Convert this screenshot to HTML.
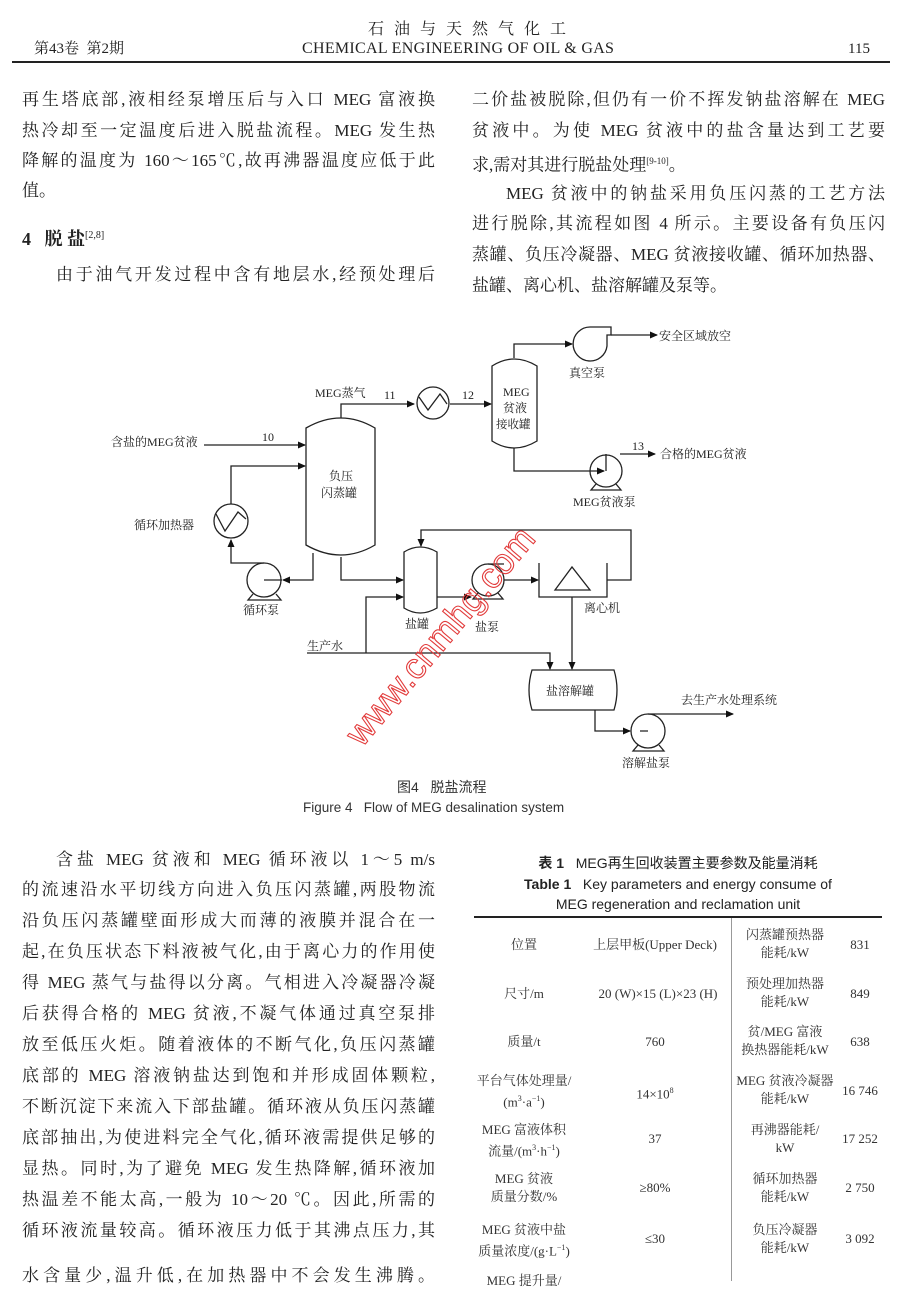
<!DOCTYPE html>
<html><head><meta charset="utf-8">
<style>
html,body{margin:0;padding:0;background:#fff;}
body{width:904px;height:1281px;position:relative;overflow:hidden;font-family:"Liberation Serif","Noto Serif CJK SC",serif;color:#222;}
.l{position:absolute;font-size:17px;line-height:24px;white-space:nowrap;}
.j{text-align:justify;text-align-last:justify;white-space:normal;height:24px;overflow:hidden;}
.t{position:absolute;font-size:13px;line-height:18px;text-align:center;color:#333;}
.sans{font-family:"Liberation Sans","Noto Sans CJK SC",sans-serif;}
</style></head><body>
<!-- header -->
<div class="l" style="left:368px;top:18px;font-size:16px;letter-spacing:10px;">石油与天然气化工</div>
<div class="l" style="left:302px;top:37px;font-size:16px;letter-spacing:0.3px;">CHEMICAL ENGINEERING OF OIL &amp; GAS</div>
<div class="l" style="left:34px;top:37px;font-size:15px;">第43卷&nbsp; 第2期</div>
<div class="l" style="left:848px;top:37px;font-size:15px;">115</div>
<div style="position:absolute;left:12px;top:61px;width:878px;height:2px;background:#222;"></div>

<!-- left column top -->
<div class="l j" style="left:22px;top:88px;width:413px;">再生塔底部,液相经泵增压后与入口 MEG 富液换</div>
<div class="l j" style="left:22px;top:119px;width:413px;">热冷却至一定温度后进入脱盐流程。MEG 发生热</div>
<div class="l j" style="left:22px;top:149px;width:413px;">降解的温度为 160～165℃,故再沸器温度应低于此</div>
<div class="l" style="left:22px;top:179px;">值。</div>
<div class="l" style="left:22px;top:224px;font-weight:bold;font-size:18px;">4&nbsp;&nbsp; 脱 盐<sup style="font-size:10px;font-weight:normal;">[2,8]</sup></div>
<div class="l j" style="left:56px;top:263px;width:379px;">由于油气开发过程中含有地层水,经预处理后</div>

<!-- right column top -->
<div class="l j" style="left:472px;top:88px;width:413px;">二价盐被脱除,但仍有一价不挥发钠盐溶解在 MEG</div>
<div class="l j" style="left:472px;top:119px;width:413px;">贫液中。为使 MEG 贫液中的盐含量达到工艺要</div>
<div class="l" style="left:472px;top:149px;">求,需对其进行脱盐处理<sup style="font-size:9px;">[9-10]</sup>。</div>
<div class="l j" style="left:506px;top:182px;width:379px;">MEG 贫液中的钠盐采用负压闪蒸的工艺方法</div>
<div class="l j" style="left:472px;top:212px;width:413px;">进行脱除,其流程如图 4 所示。主要设备有负压闪</div>
<div class="l j" style="left:472px;top:243px;width:413px;">蒸罐、负压冷凝器、MEG 贫液接收罐、循环加热器、</div>
<div class="l" style="left:472px;top:274px;">盐罐、离心机、盐溶解罐及泵等。</div>

<!-- diagram -->
<svg style="position:absolute;left:0;top:0" width="904" height="820" viewBox="0 0 904 820">
<defs><marker id="a" markerWidth="8" markerHeight="8" refX="7" refY="4" orient="auto" markerUnits="userSpaceOnUse"><path d="M0,0.5 L8,4 L0,7.5z" fill="#111"/></marker></defs>
<g fill="none" stroke="#222" stroke-width="1.3">
<path d="M306,428 Q341,408 375,428 L375,545 Q341,565 306,545 Z"/>
<path d="M492,366 Q514,352 537,366 L537,441 Q514,455 492,441 Z"/>
<path d="M404,552 Q420,542 437,552 L437,608 Q420,618 404,608 Z"/>
<path d="M532,670 L614,670 Q620,690 614,710 L532,710 Q526,690 532,670 Z"/>
<path d="M539,563 L539,597 L607,597 L607,563"/>
<path d="M555,590 L572,567 L590,590 Z"/>
<circle cx="433" cy="403" r="16"/><path d="M419,397 L428,410 L440,394 L447,404"/>
<circle cx="231" cy="521" r="17"/><path d="M216,514 L225,531 L238,512 L246,519"/>
<circle cx="264" cy="580" r="17"/><path d="M264,580 L282,580 M253,594 L248,600 L281,600 L276,594"/>
<circle cx="606" cy="471" r="16"/><path d="M596,484 L591,490 L621,490 L616,484 M606,454 L606,471"/>
<circle cx="488" cy="580" r="16"/><path d="M478,593 L473,599 L503,599 L498,593 M488,564 L504,564"/>
<circle cx="648" cy="731" r="17"/><path d="M638,745 L633,751 L664,751 L659,745 M648,731 L640,731 M648,714 L664,714"/>
<path d="M611,335 L611,327 L590,327 A17,17 0 1 0 607,346 L607,335 Z"/>
<path d="M341,418 L341,404 L414,404" marker-end="url(#a)"/>
<path d="M450,404 L491,404" marker-end="url(#a)"/>
<path d="M514,358 L514,344 L572,344" marker-end="url(#a)"/>
<path d="M611,335 L657,335" marker-end="url(#a)"/>
<path d="M514,448 L514,471 L604,471" marker-end="url(#a)"/>
<path d="M620,454 L655,454" marker-end="url(#a)"/>
<path d="M204,445 L305,445" marker-end="url(#a)"/>
<path d="M231,504 L231,466 L305,466" marker-end="url(#a)"/>
<path d="M264,563 L231,563 L231,540" marker-end="url(#a)"/>
<path d="M313,553 L313,580 L283,580" marker-end="url(#a)"/>
<path d="M341,557 L341,580 L403,580" marker-end="url(#a)"/>
<path d="M437,597 L471,597" marker-end="url(#a)"/>
<path d="M504,580 L538,580" marker-end="url(#a)"/>
<path d="M607,580 L631,580 L631,530 L421,530 L421,546" marker-end="url(#a)"/>
<path d="M307,653 L550,653 L550,669" marker-end="url(#a)"/>
<path d="M366,653 L366,597 L403,597" marker-end="url(#a)"/>
<path d="M572,597 L572,669" marker-end="url(#a)"/>
<path d="M595,710 L595,731 L630,731" marker-end="url(#a)"/>
<path d="M664,714 L733,714" marker-end="url(#a)"/>
</g>
<g font-family="Liberation Serif,Noto Serif CJK SC,serif" font-size="12" fill="#222">
<text x="315" y="397">MEG蒸气</text>
<text x="384" y="399">11</text>
<text x="462" y="399">12</text>
<text x="503" y="396">MEG</text>
<text x="503" y="412">贫液</text>
<text x="496" y="428" font-size="11.5">接收罐</text>
<text x="569" y="377">真空泵</text>
<text x="659" y="340">安全区域放空</text>
<text x="632" y="450">13</text>
<text x="660" y="458">合格的MEG贫液</text>
<text x="573" y="506">MEG贫液泵</text>
<text x="111" y="446">含盐的MEG贫液</text>
<text x="262" y="441">10</text>
<text x="329" y="480">负压</text>
<text x="321" y="497">闪蒸罐</text>
<text x="134" y="529">循环加热器</text>
<text x="243" y="614">循环泵</text>
<text x="405" y="628">盐罐</text>
<text x="475" y="631">盐泵</text>
<text x="584" y="612">离心机</text>
<text x="307" y="650">生产水</text>
<text x="546" y="695">盐溶解罐</text>
<text x="681" y="704">去生产水处理系统</text>
<text x="622" y="767">溶解盐泵</text>
</g>
<text x="0" y="0" transform="translate(362,748) rotate(-50)" font-family="Liberation Sans,sans-serif" font-size="36" fill="none" stroke="#e23b3b" stroke-width="1.1">www.cnmhg.com</text>
<g font-family="Liberation Sans,Noto Sans CJK SC,sans-serif" fill="#333">
<text x="397" y="792" font-size="14">图4&nbsp;&nbsp; 脱盐流程</text>
<text x="303" y="812" font-size="13.5">Figure 4&nbsp;&nbsp; Flow of MEG desalination system</text>
</g>
</svg>

<!-- bottom left column -->
<div class="l j" style="left:56px;top:848px;width:379px;">含盐 MEG 贫液和 MEG 循环液以 1～5 m/s</div>
<div class="l j" style="left:22px;top:878px;width:413px;">的流速沿水平切线方向进入负压闪蒸罐,两股物流</div>
<div class="l j" style="left:22px;top:909px;width:413px;">沿负压闪蒸罐壁面形成大而薄的液膜并混合在一</div>
<div class="l j" style="left:22px;top:940px;width:413px;">起,在负压状态下料液被气化,由于离心力的作用使</div>
<div class="l j" style="left:22px;top:971px;width:413px;">得 MEG 蒸气与盐得以分离。气相进入冷凝器冷凝</div>
<div class="l j" style="left:22px;top:1002px;width:413px;">后获得合格的 MEG 贫液,不凝气体通过真空泵排</div>
<div class="l j" style="left:22px;top:1033px;width:413px;">放至低压火炬。随着液体的不断气化,负压闪蒸罐</div>
<div class="l j" style="left:22px;top:1064px;width:413px;">底部的 MEG 溶液钠盐达到饱和并形成固体颗粒,</div>
<div class="l j" style="left:22px;top:1095px;width:413px;">不断沉淀下来流入下部盐罐。循环液从负压闪蒸罐</div>
<div class="l j" style="left:22px;top:1126px;width:413px;">底部抽出,为使进料完全气化,循环液需提供足够的</div>
<div class="l j" style="left:22px;top:1157px;width:413px;">显热。同时,为了避免 MEG 发生热降解,循环液加</div>
<div class="l j" style="left:22px;top:1188px;width:413px;">热温差不能太高,一般为 10～20 ℃。因此,所需的</div>
<div class="l j" style="left:22px;top:1219px;width:413px;">循环液流量较高。循环液压力低于其沸点压力,其</div>
<div class="l j" style="left:22px;top:1264px;width:413px;">水含量少,温升低,在加热器中不会发生沸腾。</div>

<!-- table -->
<div class="l sans" style="left:474px;top:853px;width:408px;text-align:center;font-size:14px;line-height:20px;"><b>表 1</b>&nbsp;&nbsp; MEG再生回收装置主要参数及能量消耗</div>
<div class="l sans" style="left:474px;top:874px;width:408px;text-align:center;font-size:14px;line-height:20px;"><b>Table 1</b>&nbsp;&nbsp; Key parameters and energy consume of</div>
<div class="l sans" style="left:474px;top:894px;width:408px;text-align:center;font-size:14px;line-height:20px;">MEG regeneration and reclamation unit</div>
<div style="position:absolute;left:474px;top:916px;width:408px;height:2px;background:#222;"></div>
<div style="position:absolute;left:731px;top:918px;width:1px;height:363px;background:#999;"></div>

<div class="t" style="left:474px;top:936px;width:100px;">位置</div>
<div class="t" style="left:580px;top:936px;width:150px;">上层甲板(Upper Deck)</div>
<div class="t" style="left:735px;top:926px;width:100px;">闪蒸罐预热器<br>能耗/kW</div>
<div class="t" style="left:835px;top:936px;width:50px;">831</div>

<div class="t" style="left:474px;top:985px;width:100px;">尺寸/m</div>
<div class="t" style="left:580px;top:985px;width:156px;">20 (W)×15 (L)×23 (H)</div>
<div class="t" style="left:735px;top:975px;width:100px;">预处理加热器<br>能耗/kW</div>
<div class="t" style="left:835px;top:985px;width:50px;">849</div>

<div class="t" style="left:474px;top:1033px;width:100px;">质量/t</div>
<div class="t" style="left:580px;top:1033px;width:150px;">760</div>
<div class="t" style="left:735px;top:1023px;width:100px;">贫/MEG 富液<br>换热器能耗/kW</div>
<div class="t" style="left:835px;top:1033px;width:50px;">638</div>

<div class="t" style="left:474px;top:1072px;width:100px;">平台气体处理量/<br>(m<sup style="font-size:8px">3</sup>·a<sup style="font-size:8px">−1</sup>)</div>
<div class="t" style="left:580px;top:1082px;width:150px;">14×10<sup style="font-size:8px">8</sup></div>
<div class="t" style="left:735px;top:1072px;width:100px;">MEG 贫液冷凝器<br>能耗/kW</div>
<div class="t" style="left:835px;top:1082px;width:50px;">16 746</div>

<div class="t" style="left:474px;top:1121px;width:100px;">MEG 富液体积<br>流量/(m<sup style="font-size:8px">3</sup>·h<sup style="font-size:8px">−1</sup>)</div>
<div class="t" style="left:580px;top:1130px;width:150px;">37</div>
<div class="t" style="left:735px;top:1121px;width:100px;">再沸器能耗/<br>kW</div>
<div class="t" style="left:835px;top:1130px;width:50px;">17 252</div>

<div class="t" style="left:474px;top:1170px;width:100px;">MEG 贫液<br>质量分数/%</div>
<div class="t" style="left:580px;top:1179px;width:150px;">≥80%</div>
<div class="t" style="left:735px;top:1170px;width:100px;">循环加热器<br>能耗/kW</div>
<div class="t" style="left:835px;top:1179px;width:50px;">2 750</div>

<div class="t" style="left:474px;top:1221px;width:100px;">MEG 贫液中盐<br>质量浓度/(g·L<sup style="font-size:8px">−1</sup>)</div>
<div class="t" style="left:580px;top:1230px;width:150px;">≤30</div>
<div class="t" style="left:735px;top:1221px;width:100px;">负压冷凝器<br>能耗/kW</div>
<div class="t" style="left:835px;top:1230px;width:50px;">3 092</div>

<div class="t" style="left:474px;top:1272px;width:100px;">MEG 提升量/</div>
</body></html>
